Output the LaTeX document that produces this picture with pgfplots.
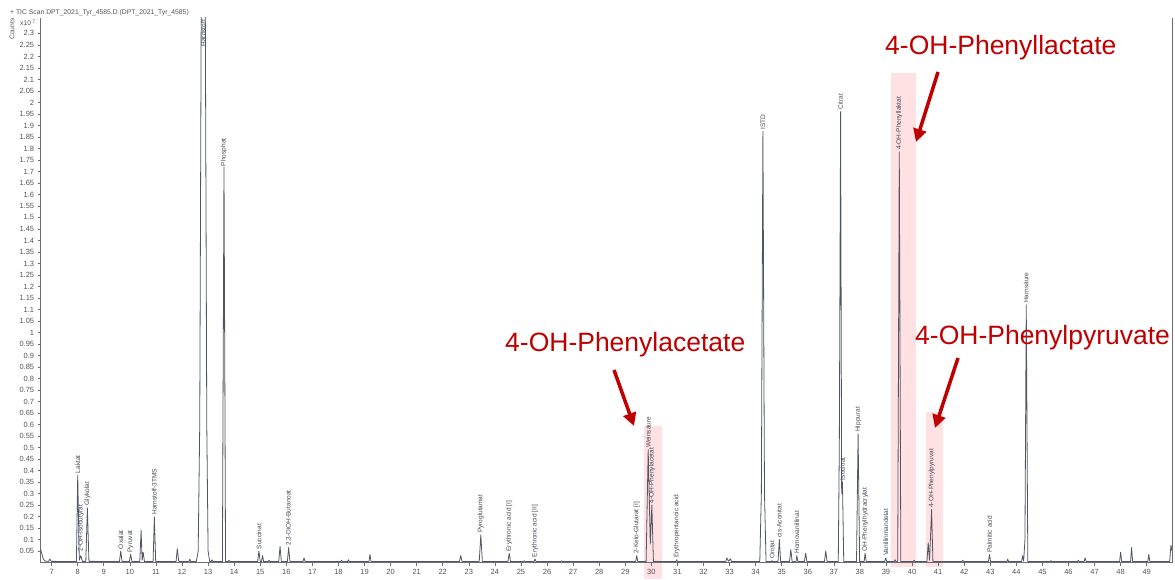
\documentclass[border=0pt]{standalone}
\usepackage{fontspec}
\setmainfont{Liberation Sans}
\usepackage{pgfplots}
\pgfplotsset{compat=1.18}
\usetikzlibrary{arrows.meta}
\definecolor{trace}{RGB}{80,86,98}
\definecolor{axisgray}{RGB}{110,110,115}
\definecolor{tickgray}{RGB}{85,85,90}
\definecolor{lblgray}{RGB}{70,75,88}
\definecolor{annred}{RGB}{192,0,0}
\definecolor{pinkbox}{RGB}{255,224,227}
\tikzset{lbl/.style={rotate=90, anchor=west, inner sep=0.6pt, font=\fontsize{6.5}{7}\selectfont, text=lblgray}}
\begin{document}
\begin{tikzpicture}[x=1pt,y=1pt]
\path[use as bounding box] (0,0) rectangle (1175,579);
% highlight boxes
\fill[pinkbox] (644,0) rectangle (662,153);
\fill[pinkbox] (891,12) rectangle (915.7,506);
\fill[pinkbox] (926,12) rectangle (942.7,167);
% header texts
\node[anchor=west, inner sep=0pt, font=\fontsize{6.8}{7}\selectfont, text=tickgray] at (10,566.3) {+ TIC Scan DPT\_2021\_Tyr\_4585.D (DPT\_2021\_Tyr\_4585)};
\node[rotate=90, inner sep=0pt, font=\fontsize{6.8}{7}\selectfont, text=tickgray] at (12,550) {Counts};
\node[anchor=west, inner sep=0pt, font=\fontsize{6.8}{7}\selectfont, text=tickgray] at (20,556) {x10\,\raisebox{2.5pt}{\fontsize{5}{5}\selectfont 7}};
\begin{axis}[
  at={(40.7pt,16.5pt)}, anchor=south west,
  scale only axis, width=1131.3pt, height=544.5pt,
  xmin=6.58, xmax=49.97, ymin=0, ymax=2.367,
  axis x line*=bottom, axis y line*=left,
  axis line style={draw=axisgray, line width=0.8pt, -},
  xtick={7,...,49},
  ytick={0.05,0.1,0.15,0.2,0.25,0.3,0.35,0.4,0.45,0.5,0.55,0.6,0.65,0.7,0.75,0.8,0.85,0.9,0.95,1,1.05,1.1,1.15,1.2,1.25,1.3,1.35,1.4,1.45,1.5,1.55,1.6,1.65,1.7,1.75,1.8,1.85,1.9,1.95,2,2.05,2.1,2.15,2.2,2.25,2.3},
  tick align=outside, major tick length=3pt,
  tick style={draw=axisgray, line width=0.6pt},
  ticklabel style={font=\fontsize{7.5}{8}\selectfont, text=tickgray},
  yticklabel style={/pgf/number format/.cd, fixed, precision=2, assume math mode=true},
  xticklabel style={/pgf/number format/assume math mode=true},
  clip mode=individual,
]
\addplot[trace, line width=0.8pt, line join=round] table {
x y
6.58 0.057
6.62 0.04
6.68 0.015
6.75 0.006
6.88 0.005
6.93 0.015
6.98 0.005
7.95 0.004
8.00 0.38
8.06 0.01
8.12 0.03
8.18 0.005
8.31 0.005
8.37 0.237
8.43 0.005
9.60 0.004
9.65 0.05
9.70 0.004
9.98 0.004
10.03 0.035
10.08 0.004
10.38 0.004
10.43 0.14
10.47 0.01
10.51 0.045
10.56 0.004
10.89 0.004
10.94 0.198
10.99 0.004
11.77 0.004
11.82 0.06
11.87 0.008
11.90 0.004
12.27 0.004
12.30 0.015
12.33 0.004
12.55 0.005
12.62 0.05
12.68 0.6
12.74 2.5
12.89 2.5
12.95 0.6
13.00 0.05
13.06 0.005
13.12 0.004
13.15 0.012
13.18 0.004
13.55 0.004
13.61 1.72
13.67 0.004
13.77 0.004
13.80 0.01
13.83 0.004
14.90 0.004
14.95 0.05
15.00 0.004
15.05 0.004
15.09 0.03
15.13 0.004
15.31 0.004
15.34 0.01
15.37 0.004
15.71 0.004
15.76 0.07
15.81 0.004
16.04 0.004
16.09 0.065
16.14 0.004
16.64 0.004
16.68 0.02
16.72 0.004
18.09 0.004
18.12 0.01
18.15 0.004
18.35 0.004
18.38 0.012
18.41 0.004
19.17 0.004
19.21 0.035
19.25 0.004
22.64 0.004
22.69 0.03
22.74 0.004
23.40 0.004
23.46 0.12
23.52 0.004
24.50 0.004
24.55 0.04
24.60 0.004
25.10 0.004
25.13 0.008
25.16 0.004
25.50 0.004
25.54 0.015
25.58 0.004
26.53 0.004
26.56 0.008
26.59 0.004
29.40 0.004
29.44 0.03
29.48 0.004
29.80 0.004
29.88 0.49
29.96 0.08
30.02 0.25
30.08 0.004
30.94 0.004
30.97 0.012
31.00 0.004
32.86 0.004
32.89 0.02
32.96 0.006
33.03 0.015
33.08 0.004
34.16 0.004
34.22 0.3
34.28 1.875
34.34 0.3
34.40 0.004
34.60 0.004
34.63 0.008
34.66 0.004
34.86 0.004
34.91 0.10
34.96 0.004
35.30 0.004
35.35 0.056
35.40 0.004
35.55 0.004
35.58 0.03
35.62 0.004
35.87 0.004
35.92 0.04
35.97 0.004
36.64 0.004
36.69 0.05
36.74 0.004
37.17 0.004
37.21 0.5
37.26 1.96
37.30 0.3
37.33 0.35
37.38 0.004
37.87 0.004
37.93 0.56
37.99 0.004
38.16 0.004
38.20 0.04
38.24 0.004
38.95 0.004
38.99 0.02
39.03 0.004
39.32 0.004
39.35 0.012
39.38 0.004
39.45 0.004
39.51 1.785
39.57 0.004
40.05 0.004
40.08 0.01
40.11 0.004
40.57 0.004
40.62 0.085
40.67 0.01
40.75 0.23
40.80 0.004
41.91 0.004
41.94 0.01
41.97 0.004
42.93 0.004
42.97 0.035
43.01 0.004
43.64 0.004
43.67 0.015
43.70 0.004
44.20 0.004
44.24 0.03
44.28 0.006
44.33 0.1
44.38 1.12
44.44 0.004
45.29 0.004
45.32 0.008
45.35 0.004
45.82 0.004
45.85 0.006
45.88 0.004
46.35 0.004
46.38 0.01
46.41 0.004
46.60 0.004
46.64 0.02
46.68 0.004
47.96 0.004
48.00 0.045
48.04 0.004
48.38 0.004
48.42 0.065
48.46 0.004
49.04 0.004
49.08 0.035
49.12 0.004
49.88 0.004
49.93 0.075
49.97 0.05
};
\draw[axisgray, line width=0.8pt] (rel axis cs:1,0) -- (rel axis cs:1,1);
\node[lbl] at (axis cs:8.00,0.385) {Laktat};
\node[lbl] at (axis cs:8.12,0.045) {2-OH-Isobutyrat};
\node[lbl] at (axis cs:8.37,0.245) {Glykolat};
\node[lbl] at (axis cs:9.65,0.055) {Oxalat};
\node[lbl] at (axis cs:10.03,0.04) {Pyruvat};
\node[lbl] at (axis cs:10.94,0.205) {Harnstoff-3TMS};
\node[lbl] at (axis cs:12.82,2.24) {Harnstoff};
\node[lbl] at (axis cs:13.61,1.72) {Phosphat};
\node[lbl] at (axis cs:14.95,0.055) {Succinat};
\node[lbl] at (axis cs:16.09,0.07) {2,3-DiOH-Butanoat};
\node[lbl] at (axis cs:23.46,0.125) {Pyroglutamat};
\node[lbl] at (axis cs:24.55,0.045) {Erythronic acid [I]};
\node[lbl] at (axis cs:25.54,0.02) {Erythronic acid [II]};
\node[lbl] at (axis cs:29.44,0.035) {2-Keto-Glutarat [I]};
\node[lbl] at (axis cs:29.88,0.495) {Weinsäure};
\node[lbl] at (axis cs:30.02,0.255) {4-OH-Phenylacetat};
\node[lbl] at (axis cs:30.97,0.017) {Erythropentanoic acid};
\node[lbl] at (axis cs:34.28,1.88) {ISTD};
\node[lbl] at (axis cs:34.63,0.013) {Orotat};
\node[lbl] at (axis cs:34.91,0.105) {cis-Aconitat};
\node[lbl] at (axis cs:35.58,0.035) {Homovanillinat};
\node[lbl] at (axis cs:37.26,1.965) {Citrat};
\node[lbl] at (axis cs:37.33,0.355) {Isocitrat};
\node[lbl] at (axis cs:37.93,0.565) {Hippurat};
\node[lbl] at (axis cs:38.20,0.045) {OH-Phenylhydracrylat};
\node[lbl] at (axis cs:38.99,0.025) {Vanillinmandelat};
\node[lbl] at (axis cs:39.51,1.79) {4-OH-Phenyllaktat};
\node[lbl] at (axis cs:40.75,0.235) {4-OH-Phenylpyruvat};
\node[lbl] at (axis cs:42.97,0.04) {Palmitic acid};
\node[lbl] at (axis cs:44.38,1.125) {Harnsäure};
\end{axis}
% annotations
\node[anchor=base west, inner sep=0pt, font=\fontsize{26.5}{28}\selectfont, text=annred] at (505,227.3) {4-OH-Phenylacetate};
\node[anchor=base west, inner sep=0pt, font=\fontsize{26.5}{28}\selectfont, text=annred] at (885,524) {4-OH-Phenyllactate};
\node[anchor=base west, inner sep=0pt, font=\fontsize{26.5}{28}\selectfont, text=annred] at (915,234) {4-OH-Phenylpyruvate};
\draw[annred, line width=3.5pt, -{Triangle[length=13pt,width=13pt]}] (614,209) -- (634,153);
\draw[annred, line width=3.5pt, -{Triangle[length=13pt,width=13pt]}] (938,507) -- (916,437);
\draw[annred, line width=3.5pt, -{Triangle[length=13pt,width=13pt]}] (958,221) -- (935,151);
\end{tikzpicture}
\end{document}
